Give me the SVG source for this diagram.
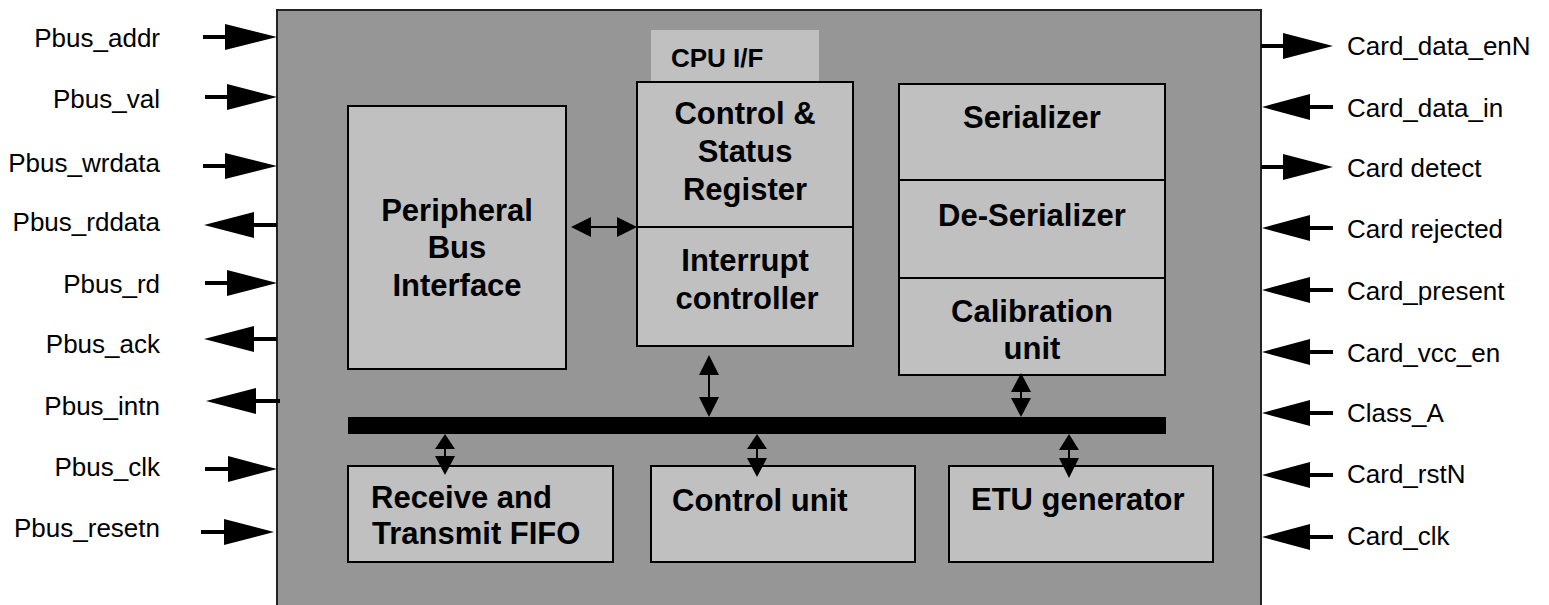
<svg xmlns="http://www.w3.org/2000/svg" width="1549" height="605" viewBox="0 0 1549 605">
<style>
.bg{fill:#ffffff}
.chip{fill:#969696;stroke:#222;stroke-width:2}
.blk{fill:#c0c0c0;stroke:#000;stroke-width:2}
.tab{fill:#c0c0c0;stroke:none}
.sig{font-family:"Liberation Sans",Arial,sans-serif;font-size:26px;fill:#000}
.lbl{font-family:"Liberation Sans",Arial,sans-serif;font-size:31px;font-weight:bold;fill:#000;text-anchor:middle}
.lbll{font-family:"Liberation Sans",Arial,sans-serif;font-size:31px;font-weight:bold;fill:#000}
.cpu{font-family:"Liberation Sans",Arial,sans-serif;font-size:26px;font-weight:bold;fill:#000}
.wire{stroke:#000;stroke-width:4;fill:none}
.thin{stroke:#000;stroke-width:2;fill:none}
.head{fill:#000;stroke:none}
</style>
<rect class="bg" x="0" y="0" width="1549" height="605"/>
<g id="chip">
<rect class="chip" x="277" y="10" width="984" height="610"/>
</g>
<g id="cpu_if">
<rect class="tab" x="651" y="30" width="168" height="52"/>
<text class="cpu" x="671" y="67">CPU I/F</text>
</g>
<g id="peripheral_bus_interface">
<rect class="blk" x="348" y="106" width="218" height="263"/>
<text class="lbl" x="457" y="221">Peripheral</text>
<text class="lbl" x="457" y="258">Bus</text>
<text class="lbl" x="457" y="296">Interface</text>
</g>
<g id="control_status_register">
<rect class="blk" x="637" y="82" width="216" height="145"/>
<text class="lbl" x="745" y="124">Control &amp;</text>
<text class="lbl" x="745" y="162">Status</text>
<text class="lbl" x="745" y="200">Register</text>
</g>
<g id="interrupt_controller">
<rect class="blk" x="637" y="227" width="216" height="119"/>
<text class="lbl" x="745" y="271">Interrupt</text>
<text class="lbl" x="747" y="309">controller</text>
</g>
<g id="serializer">
<rect class="blk" x="899" y="84" width="266" height="96"/>
<text class="lbl" x="1032" y="128">Serializer</text>
</g>
<g id="de_serializer">
<rect class="blk" x="899" y="180" width="266" height="98"/>
<text class="lbl" x="1032" y="226">De-Serializer</text>
</g>
<g id="calibration_unit">
<rect class="blk" x="899" y="278" width="266" height="97"/>
<text class="lbl" x="1032" y="322">Calibration</text>
<text class="lbl" x="1032" y="359">unit</text>
</g>
<g id="bus">
<rect x="348" y="417" width="818" height="17" fill="#000"/>
</g>
<g id="receive_transmit_fifo">
<rect class="blk" x="348" y="466" width="265" height="96"/>
<text class="lbll" x="371" y="508">Receive and</text>
<text class="lbll" x="372" y="544">Transmit FIFO</text>
</g>
<g id="control_unit">
<rect class="blk" x="651" y="466" width="264" height="96"/>
<text class="lbll" x="672" y="511">Control unit</text>
</g>
<g id="etu_generator">
<rect class="blk" x="949" y="466" width="264" height="96"/>
<text class="lbll" x="971" y="510">ETU generator</text>
</g>
<g id="connectors">
<line class="wire" x1="203" y1="37" x2="230" y2="37"/><polygon class="head" points="225,24 277,37 225,50"/>
<line class="wire" x1="205" y1="97" x2="230" y2="97"/><polygon class="head" points="227,84 277,97 227,110"/>
<line class="wire" x1="203" y1="166" x2="230" y2="166"/><polygon class="head" points="225,153 277,166 225,179"/>
<line class="wire" x1="250" y1="225" x2="277" y2="225"/><polygon class="head" points="204,225 254,212 254,238"/>
<line class="wire" x1="205" y1="283" x2="230" y2="283"/><polygon class="head" points="227,270 277,283 227,296"/>
<line class="wire" x1="250" y1="339" x2="277" y2="339"/><polygon class="head" points="204,339 254,326 254,352"/>
<line class="wire" x1="252" y1="401" x2="280" y2="401"/><polygon class="head" points="206,401 256,388 256,414"/>
<line class="wire" x1="205" y1="469" x2="232" y2="469"/><polygon class="head" points="228,456 277,469 228,482"/>
<line class="wire" x1="201" y1="532" x2="228" y2="532"/><polygon class="head" points="224,519 274,532 224,545"/>
<line class="wire" x1="1261" y1="46" x2="1288" y2="46"/><polygon class="head" points="1283,33 1333,46 1283,59"/>
<line class="wire" x1="1306" y1="107" x2="1333" y2="107"/><polygon class="head" points="1262,107 1310,94 1310,120"/>
<line class="wire" x1="1261" y1="167" x2="1288" y2="167"/><polygon class="head" points="1283,154 1333,167 1283,180"/>
<line class="wire" x1="1306" y1="228" x2="1333" y2="228"/><polygon class="head" points="1262,228 1310,215 1310,241"/>
<line class="wire" x1="1306" y1="290" x2="1333" y2="290"/><polygon class="head" points="1262,290 1310,277 1310,303"/>
<line class="wire" x1="1306" y1="352" x2="1333" y2="352"/><polygon class="head" points="1262,352 1310,339 1310,365"/>
<line class="wire" x1="1306" y1="413" x2="1333" y2="413"/><polygon class="head" points="1262,413 1310,400 1310,426"/>
<line class="wire" x1="1306" y1="475" x2="1333" y2="475"/><polygon class="head" points="1262,475 1310,462 1310,488"/>
<line class="wire" x1="1306" y1="537" x2="1333" y2="537"/><polygon class="head" points="1262,537 1310,524 1310,550"/>
<line class="thin" x1="588" y1="227" x2="620" y2="227"/>
<polygon class="head" points="571,227 591,217 591,237"/>
<polygon class="head" points="637,227 617,217 617,237"/>
<line class="thin" x1="709" y1="372" x2="709" y2="400"/>
<polygon class="head" points="709,355 699,375 719,375"/>
<polygon class="head" points="709,417 699,397 719,397"/>
<line class="thin" x1="1021" y1="390" x2="1021" y2="400"/>
<polygon class="head" points="1021,373 1011,392 1031,392"/>
<polygon class="head" points="1021,417 1011,398 1031,398"/>
<line class="thin" x1="445" y1="446" x2="445" y2="459"/>
<polygon class="head" points="445,434 435,449 455,449"/>
<polygon class="head" points="445,475 435,456 455,456"/>
<line class="thin" x1="757" y1="446" x2="757" y2="460"/>
<polygon class="head" points="757,434 747,449 767,449"/>
<polygon class="head" points="757,477 747,458 767,458"/>
<line class="thin" x1="1069" y1="446" x2="1069" y2="460"/>
<polygon class="head" points="1069,434 1059,450 1079,450"/>
<polygon class="head" points="1069,478 1059,458 1079,458"/>
</g>
<g id="left_labels" class="sig" text-anchor="end">
<text x="160" y="47">Pbus_addr</text>
<text x="160" y="108">Pbus_val</text>
<text x="160" y="172">Pbus_wrdata</text>
<text x="160" y="231">Pbus_rddata</text>
<text x="160" y="293">Pbus_rd</text>
<text x="160" y="353">Pbus_ack</text>
<text x="160" y="415">Pbus_intn</text>
<text x="160" y="476">Pbus_clk</text>
<text x="160" y="537">Pbus_resetn</text>
</g>
<g id="right_labels" class="sig">
<text x="1347" y="55">Card_data_enN</text>
<text x="1347" y="117">Card_data_in</text>
<text x="1347" y="177">Card detect</text>
<text x="1347" y="238">Card rejected</text>
<text x="1347" y="300">Card_present</text>
<text x="1347" y="362">Card_vcc_en</text>
<text x="1347" y="422">Class_A</text>
<text x="1347" y="483">Card_rstN</text>
<text x="1347" y="545">Card_clk</text>
</g>
</svg>
